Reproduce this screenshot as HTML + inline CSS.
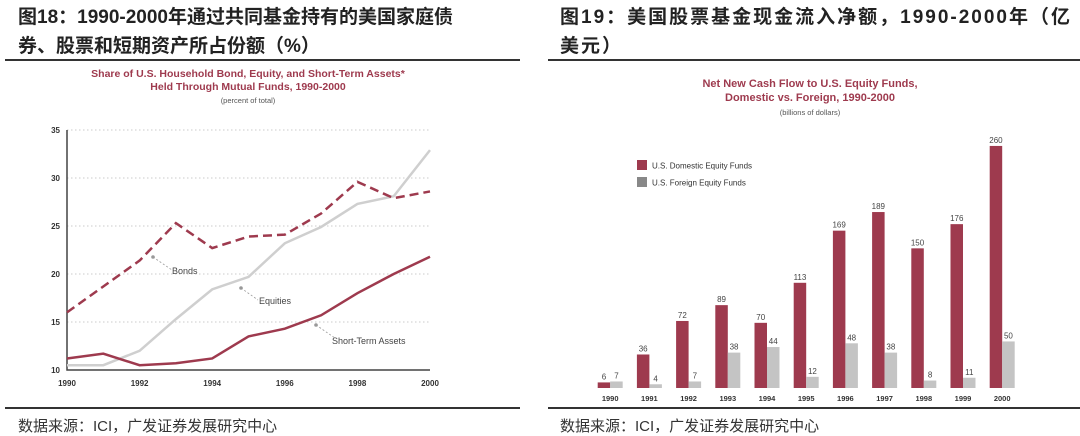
<!DOCTYPE html>
<html><head><meta charset="utf-8"><style>
body{margin:0;width:1080px;height:436px;background:#fff;overflow:hidden;font-family:"Liberation Sans","Noto Sans CJK SC",sans-serif}
.h{position:absolute;font-weight:bold;font-size:19px;color:#222;line-height:29px;font-family:"Liberation Sans","Noto Sans CJK SC",sans-serif}
.f{position:absolute;font-size:15px;color:#333;top:415px}
.rule{position:absolute;height:2px;background:#333}
</style></head><body>
<div class="h" style="left:18px;top:3px;width:500px">图18：1990-2000年通过共同基金持有的美国家庭债<br>券、股票和短期资产所占份额（%）</div>
<div class="h" style="left:560px;top:3px;width:520px;letter-spacing:2px">图19：美国股票基金现金流入净额，1990-2000年（亿<br>美元）</div>
<div class="rule" style="left:5px;top:59px;width:515px"></div>
<div class="rule" style="left:548px;top:59px;width:532px"></div>
<div class="rule" style="left:5px;top:407px;width:515px"></div>
<div class="rule" style="left:548px;top:407px;width:532px"></div>
<div class="f" style="left:18px">数据来源：ICI，广发证券发展研究中心</div>
<div class="f" style="left:560px">数据来源：ICI，广发证券发展研究中心</div>
<svg id="c" width="1080" height="436" style="position:absolute;left:0;top:0"></svg>
<script>
const years=[1990,1991,1992,1993,1994,1995,1996,1997,1998,1999,2000];
const bonds=[16,18.7,21.4,25.3,22.7,23.9,24.1,26.3,29.6,27.9,28.6];
const equities=[10.5,10.5,12,15.3,18.4,19.7,23.2,24.9,27.3,28.1,32.9];
const shortTerm=[11.2,11.7,10.5,10.7,11.2,13.5,14.3,15.7,18,20,21.8];
const yTicks=[10,15,20,25,30,35];
const xTicks=[1990,1992,1994,1996,1998,2000];
const domestic=[6,36,72,89,70,113,169,189,150,176,260];
const foreign=[7,4,7,38,44,12,48,38,8,11,50];
const svg=document.getElementById('c');const NS='http://www.w3.org/2000/svg';
const RED='#9e3a4e',GR='#c4c4c4';
function mk(t,a,p,txt){const e=document.createElementNS(NS,t);for(const k in a)e.setAttribute(k,a[k]);if(txt!=null)e.textContent=txt;(p||svg).appendChild(e);return e;}
const X=v=>67+(v-1990)*36.3, Y=v=>370-(v-10)*9.6;
let t;
t=mk('text',{x:248,y:77,'text-anchor':'middle','font-size':10.5,'font-weight':'bold',fill:RED},null,'Share of U.S. Household Bond, Equity, and Short-Term Assets*');

t=mk('text',{x:248,y:90,'text-anchor':'middle','font-size':10.5,'font-weight':'bold',fill:RED},null,'Held Through Mutual Funds, 1990-2000');

t=mk('text',{x:248,y:103,'text-anchor':'middle','font-size':7.5,fill:'#555'},null,'(percent of total)');

yTicks.forEach(v=>{
 if(v>10){const l=mk('line',{x1:67,x2:430,y1:Y(v),y2:Y(v),stroke:'#bbb','stroke-dasharray':'1.5,2.5','stroke-width':0.8});
 }
 const tx=mk('text',{x:60,y:Y(v)+3,'text-anchor':'end','font-size':8,'font-weight':'bold',fill:'#333'},null,v);
 
});
xTicks.forEach(v=>{const tx=mk('text',{x:X(v),y:386,'text-anchor':'middle','font-size':8,'font-weight':'bold',fill:'#333'},null,v);
 });
let ax=mk('path',{d:'M67,130V370H430',fill:'none',stroke:'#444','stroke-width':1.5});

function line(arr,stroke,dash,name){const d=arr.map((v,i)=>(i?'L':'M')+X(years[i])+','+Y(v)).join('');
 const p=mk('path',{d:d,fill:'none',stroke:stroke,'stroke-width':2.5,'stroke-dasharray':dash||''});
 }
line(equities,'#cfcfcf',null,'equities-line');
line(bonds,RED,'9,5','bonds-line');
line(shortTerm,RED,null,'short-term-line');
[[153,257,172,270,'Bonds',172,274],[241,288,258,300,'Equities',259,304],[316,325,335,338,'Short-Term Assets',332,344]].forEach(a=>{
 const c=mk('circle',{cx:a[0],cy:a[1],r:1.8,fill:'#999'});
 const l=mk('line',{x1:a[0],y1:a[1],x2:a[2],y2:a[3],stroke:'#999','stroke-dasharray':'2,2','stroke-width':0.8});
 const tx=mk('text',{x:a[5],y:a[6],'font-size':9,fill:'#444'},null,a[4]);
});
const B=v=>v*0.931, base=388, G=i=>597.7+i*39.2, BW=12.5;
[['Net New Cash Flow to U.S. Equity Funds,',87,11],['Domestic vs. Foreign, 1990-2000',101,11]].forEach(a=>{
 const tx=mk('text',{x:810,y:a[1],'text-anchor':'middle','font-size':a[2],'font-weight':'bold',fill:RED},null,a[0]);
 });
t=mk('text',{x:810,y:115,'text-anchor':'middle','font-size':7.5,fill:'#555'},null,'(billions of dollars)');

[[RED,'U.S. Domestic Equity Funds',160],['#888','U.S. Foreign Equity Funds',177]].forEach(a=>{
 const r=mk('rect',{x:637,y:a[2],width:10,height:10,fill:a[0]});
 const tx=mk('text',{x:652,y:a[2]+8.5,'font-size':8,fill:'#333'},null,a[1]);});
years.forEach((y,i)=>{
 const x=G(i);
 const r1=mk('rect',{x:x,y:base-B(domestic[i]),width:BW,height:B(domestic[i]),fill:RED});
 
 const r2=mk('rect',{x:x+BW,y:base-B(foreign[i]),width:BW,height:B(foreign[i]),fill:GR});
 
 const l1=mk('text',{x:x+BW/2,y:base-B(domestic[i])-3,'text-anchor':'middle','font-size':8,fill:'#444'},null,domestic[i]);
 
 const l2=mk('text',{x:x+BW*1.5,y:base-B(foreign[i])-3,'text-anchor':'middle','font-size':8,fill:'#444'},null,foreign[i]);
 
 const yl=mk('text',{x:x+BW,y:401,'text-anchor':'middle','font-size':7.5,'font-weight':'bold',fill:'#333'},null,y);
 
});
</script>
</body></html>
